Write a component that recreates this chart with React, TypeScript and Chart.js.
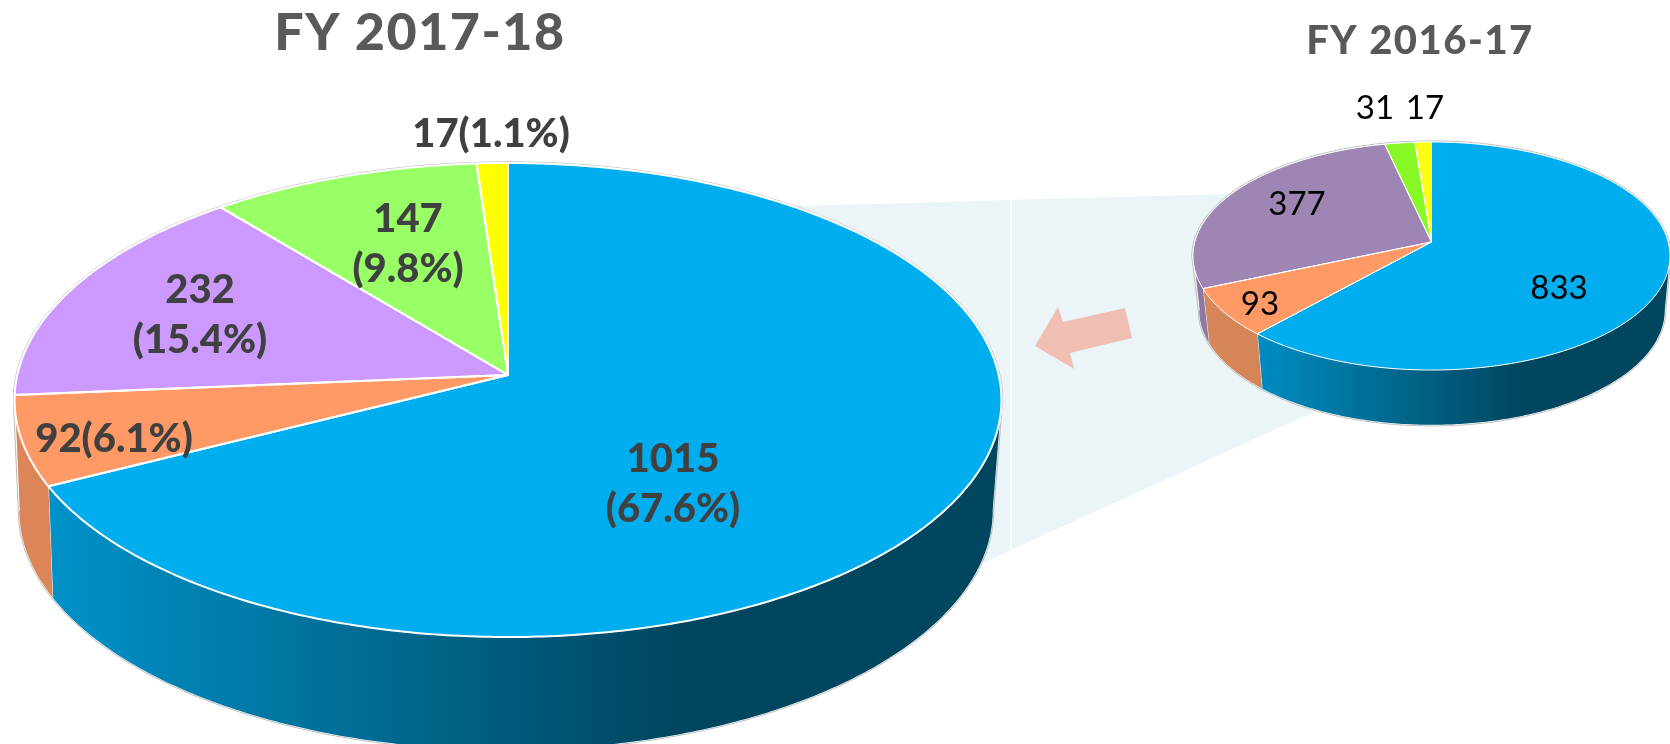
import React, { useEffect, useRef } from "react";
import { Chart, registerables } from "chart.js";

Chart.register(...registerables);

// Disposal counts per financial year, clockwise from twelve o'clock.
const values2017 = [1015, 92, 232, 147, 17];
const shares2017 = [67.6, 6.1, 15.4, 9.8, 1.1];
const values2016 = [833, 93, 377, 31, 17];

const colors2017 = ["#00aeef", "#ff9966", "#cc99ff", "#99ff66", "#ffff00"];
const colors2016 = ["#00aeef", "#ff9966", "#9f85b3", "#88f927", "#ffff14"];

const WIDTH = 1670;
const HEIGHT = 744;
const LABEL_FONT = "Lato, 'Open Sans', sans-serif";

type Face = { cx: number; cy: number; r: number; b: number; k: number };
type Text = { lines: string[]; x: number; y: number };
type Look = {
  top: Face;
  bottom: Face;
  edge: number;
  sides: string[][];
  shadeAt: number;
  title: { text: string; x: number; y: number; size: number; spacing: number };
  labels: Text[];
  labelFont: string;
  labelColor: string;
  leading: number;
};

// Perspective projection of the unit circle onto the sloped pie face.
const project = (f: Face, a: number) => {
  const X = Math.cos(a);
  const Y = Math.sin(a);
  const s = 1 / (1 - f.k * Y);
  return { x: f.cx + f.r * X * s, y: f.cy + f.b * Y * s };
};

const trace = (ctx: CanvasRenderingContext2D, f: Face, from: number, to: number, first: boolean) => {
  const steps = Math.max(2, Math.ceil(Math.abs(to - from) * 90));
  for (let i = 0; i <= steps; i++) {
    const p = project(f, from + ((to - from) * i) / steps);
    if (first && i === 0) ctx.moveTo(p.x, p.y);
    else ctx.lineTo(p.x, p.y);
  }
};

const piePlugin = (look: Look) => ({
  id: "slopedPie",
  beforeDatasetsDraw(chart: Chart) {
    const ctx = chart.ctx;
    const arcs: any[] = chart.getDatasetMeta(0).data as any[];
    const { top, bottom, edge } = look;
    const rimStart = Math.asin(top.k);
    const rimEnd = Math.PI - rimStart;

    // Side wall, lit from the left and falling into shadow towards the right.
    const wallRight = project(top, rimStart).x;
    arcs.forEach((arc, i) => {
      const from = Math.max(arc.startAngle, rimStart);
      const to = Math.min(arc.endAngle, rimEnd);
      if (to <= from) return;
      const shade = look.sides[i];
      const left = project(top, to).x;
      const g = ctx.createLinearGradient(left, 0, left + (wallRight - left) * look.shadeAt, 0);
      g.addColorStop(0, shade[0]);
      g.addColorStop(1, shade[1]);
      ctx.beginPath();
      trace(ctx, top, from, to, true);
      trace(ctx, bottom, to, from, false);
      ctx.closePath();
      ctx.fillStyle = g;
      ctx.fill();
      ctx.strokeStyle = "rgba(255,255,255,0.9)";
      ctx.lineWidth = 1;
      ctx.beginPath();
      const a = project(top, to);
      const c = project(bottom, to);
      ctx.moveTo(a.x, a.y);
      ctx.lineTo(c.x, c.y);
      ctx.stroke();
    });

    // Thin grey silhouette around the wall and the far rim.
    ctx.strokeStyle = "#bcbcbc";
    ctx.lineWidth = 1;
    ctx.beginPath();
    trace(ctx, { ...bottom, r: bottom.r + 1, b: bottom.b + 1 }, rimStart, rimEnd, true);
    trace(ctx, { ...top, r: top.r + 1.2, b: top.b + 1.2 }, rimEnd, 2 * Math.PI + rimStart, false);
    ctx.closePath();
    ctx.stroke();

    // Slice faces.
    arcs.forEach((arc) => {
      ctx.beginPath();
      ctx.moveTo(top.cx, top.cy);
      trace(ctx, top, arc.startAngle, arc.endAngle, false);
      ctx.closePath();
      ctx.fillStyle = arc.options.backgroundColor;
      ctx.fill();
    });
    ctx.strokeStyle = "#ffffff";
    ctx.lineWidth = edge;
    ctx.lineJoin = "round";
    arcs.forEach((arc) => {
      ctx.beginPath();
      ctx.moveTo(top.cx, top.cy);
      trace(ctx, top, arc.startAngle, arc.endAngle, false);
      ctx.closePath();
      ctx.stroke();
    });
    return false;
  },
  afterDraw(chart: Chart) {
    const ctx = chart.ctx;
    ctx.save();
    ctx.textAlign = "center";
    ctx.textBaseline = "alphabetic";
    const t = look.title;
    ctx.font = `900 ${t.size}px ${LABEL_FONT}`;
    ctx.fillStyle = "#595959";
    (ctx as any).letterSpacing = `${t.spacing}px`;
    ctx.fillText(t.text, t.x, t.y);
    (ctx as any).letterSpacing = "0px";
    ctx.font = look.labelFont;
    ctx.fillStyle = look.labelColor;
    look.labels.forEach((l) => {
      l.lines.forEach((line, i) => ctx.fillText(line, l.x, l.y + i * look.leading));
    });
    ctx.restore();
  },
});

const look2017: Look = {
  top: { cx: 508, cy: 375, r: 490.7, b: 234.4, k: 0.1055 },
  bottom: { cx: 506, cy: 485, r: 484, b: 237, k: 0.1055 },
  edge: 2,
  sides: [
    ["#0092c9", "#00465f"],
    ["#dc8558", "#d98356"],
    ["#a57fcc", "#a57fcc"],
    ["#7acc52", "#7acc52"],
    ["#cccc00", "#cccc00"],
  ],
  shadeAt: 0.66,
  title: { text: "FY 2017-18", x: 420, y: 50, size: 52, spacing: 1.5 },
  labels: [
    { lines: [`${values2017[0]}`, `(${shares2017[0]}%)`], x: 673, y: 472 },
    { lines: [`${values2017[1]}(${shares2017[1]}%)`], x: 114, y: 452 },
    { lines: [`${values2017[2]}`, `(${shares2017[2]}%)`], x: 200, y: 303 },
    { lines: [`${values2017[3]}`, `(${shares2017[3]}%)`], x: 408, y: 232 },
    { lines: [`${values2017[4]}(${shares2017[4]}%)`], x: 491, y: 147 },
  ],
  labelFont: `900 40px ${LABEL_FONT}`,
  labelColor: "#404040",
  leading: 50,
};

const look2016: Look = {
  top: { cx: 1431.5, cy: 242, r: 236.7, b: 112.3, k: 0.1228 },
  bottom: { cx: 1432, cy: 296, r: 231, b: 113, k: 0.1228 },
  edge: 1,
  sides: [
    ["#008cc2", "#00465f"],
    ["#d68659", "#cd7c50"],
    ["#8c78a0", "#8c78a0"],
    ["#77d622", "#77d622"],
    ["#d6d610", "#d6d610"],
  ],
  shadeAt: 0.64,
  title: { text: "FY 2016-17", x: 1420, y: 54, size: 40, spacing: 1.5 },
  labels: [
    { lines: [`${values2016[0]}`], x: 1559, y: 299 },
    { lines: [`${values2016[1]}`], x: 1260, y: 315 },
    { lines: [`${values2016[2]}`], x: 1297, y: 215 },
    { lines: [`${values2016[3]}`], x: 1375, y: 119 },
    { lines: [`${values2016[4]}`], x: 1425, y: 119 },
  ],
  labelFont: `33px ${LABEL_FONT}`,
  labelColor: "#000000",
  leading: 0,
};

function Pie({ values, colors, look, z }: { values: number[]; colors: string[]; look: Look; z: number }) {
  const ref = useRef<HTMLCanvasElement>(null);
  useEffect(() => {
    const chart = new Chart(ref.current as HTMLCanvasElement, {
      type: "pie",
      data: {
        labels: values.map(String),
        datasets: [{ data: values, backgroundColor: colors, borderWidth: 0 }],
      },
      options: {
        responsive: false,
        animation: false,
        events: [],
        plugins: { legend: { display: false }, tooltip: { enabled: false } },
      },
      plugins: [piePlugin(look)],
    } as any);
    return () => chart.destroy();
  }, [values, colors, look]);
  return (
    <canvas
      ref={ref}
      width={WIDTH}
      height={HEIGHT}
      style={{ position: "absolute", left: 0, top: 0, zIndex: z, width: WIDTH, height: HEIGHT }}
    />
  );
}

export default function App() {
  return (
    <div style={{ position: "absolute", left: 0, top: 0, width: WIDTH, height: HEIGHT, overflow: "hidden", background: "#fff" }}>
      {/* Callout band linking the two years, with the arrow pointing to the later one. */}
      <svg width={WIDTH} height={HEIGHT} style={{ position: "absolute", left: 0, top: 0 }}>
        <polygon points="760,207 1011,200 1260,193 1340,400 1011,550 950,579" fill="#ebf4f7" />
        <line x1="1011" y1="200" x2="1011" y2="550" stroke="#ffffff" strokeWidth="1.5" />
        <polygon
          points="1035,346 1058,307 1063,322 1125,308 1132,338 1070,353 1074,369"
          fill="#f0bfb3"
        />
      </svg>
      <Pie values={values2017} colors={colors2017} look={look2017} z={1} />
      <Pie values={values2016} colors={colors2016} look={look2016} z={2} />
    </div>
  );
}
